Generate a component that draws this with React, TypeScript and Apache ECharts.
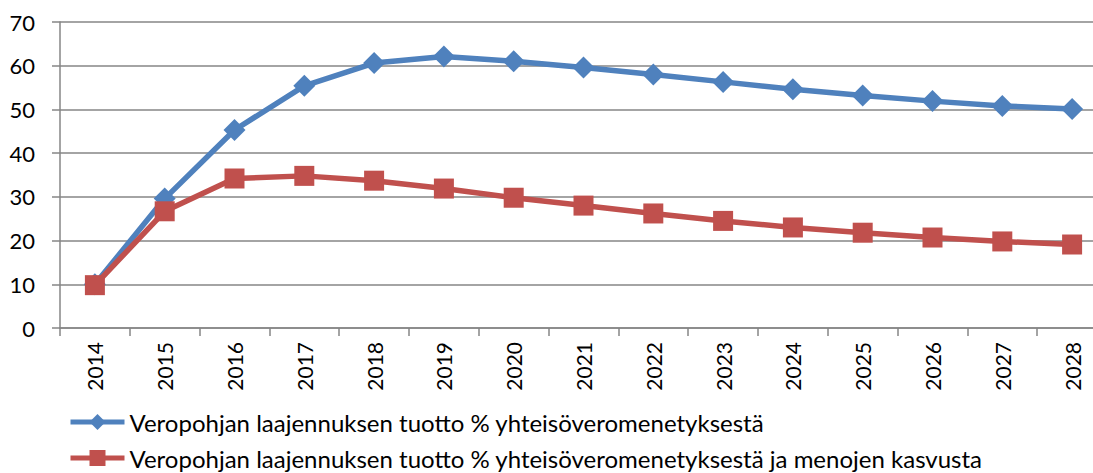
import React, { useEffect, useRef } from "react";
import * as echarts from "echarts";

const years = ["2014","2015","2016","2017","2018","2019","2020","2021","2022","2023","2024","2025","2026","2027","2028"];
const blueValues = [10, 29.6, 45.3, 55.4, 60.6, 62.1, 61.0, 59.6, 58.0, 56.3, 54.6, 53.2, 51.9, 50.8, 50.1];
const redValues = [9.8, 26.7, 34.2, 34.8, 33.7, 31.9, 29.8, 28.0, 26.2, 24.5, 23.0, 21.8, 20.7, 19.8, 19.1];
const blueName = "Veropohjan laajennuksen tuotto % yhteisöveromenetyksestä";
const redName = "Veropohjan laajennuksen tuotto % yhteisöveromenetyksestä ja menojen kasvusta";

const BLUE = "#4F81BD";
const RED = "#C0504D";

export default function App() {
  const ref = useRef<HTMLDivElement>(null);
  useEffect(() => {
    if (!ref.current) return;
    const chart = echarts.init(ref.current, undefined, { renderer: "svg" });
    const font = "Lato";
    const legendBase = {
      orient: "horizontal",
      left: 68,
      padding: 0,
      itemWidth: 54,
      itemHeight: 20,
      itemGap: 0,
      textStyle: { fontFamily: font, fontSize: 24, color: "#000" },
      lineStyle: { width: 5 },
    };
    chart.setOption({
      animation: false,
      backgroundColor: "#ffffff",
      textStyle: { fontFamily: font },
      grid: { left: 60, right: 0, top: 22, bottom: 145, containLabel: false },
      legend: [
        { ...legendBase, top: 410, data: [blueName] },
        { ...legendBase, top: 446, data: [redName] },
      ],
      xAxis: {
        type: "category",
        data: years,
        boundaryGap: true,
        axisLine: { lineStyle: { color: "#868686", width: 1.5 } },
        axisTick: { show: true, alignWithLabel: false, length: 8, lineStyle: { color: "#868686", width: 1.5 } },
        axisLabel: { rotate: 90, margin: 14, fontSize: 21, color: "#000", fontFamily: font },
      },
      yAxis: {
        type: "value",
        min: 0,
        max: 70,
        interval: 10,
        axisLine: { show: true, lineStyle: { color: "#868686", width: 1.5 } },
        axisTick: { show: true, length: 8, lineStyle: { color: "#868686", width: 1.5 } },
        axisLabel: { margin: 25, fontSize: 22, color: "#000", fontFamily: font },
        splitLine: { lineStyle: { color: "#868686", width: 1.5 } },
      },
      series: [
        {
          name: blueName,
          type: "line",
          data: blueValues,
          symbol: "diamond",
          symbolSize: 22,
          color: BLUE,
          lineStyle: { width: 5.5, color: BLUE },
          itemStyle: { color: BLUE },
        },
        {
          name: redName,
          type: "line",
          data: redValues,
          symbol: "rect",
          symbolSize: 20,
          color: RED,
          lineStyle: { width: 5.5, color: RED },
          itemStyle: { color: RED },
        },
      ],
    });
    return () => chart.dispose();
  }, []);
  return (
    <div style={{ width: 1093, height: 473, position: "absolute", left: 0, top: 0, overflow: "hidden" }}>
      <div ref={ref} style={{ width: 1107, height: 473 }} />
    </div>
  );
}
